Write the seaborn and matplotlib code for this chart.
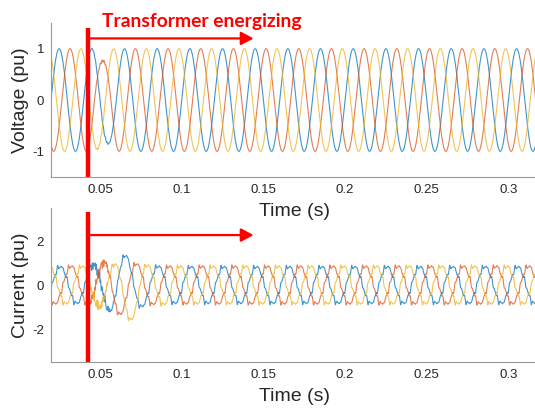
import numpy as np
import pandas as pd
import matplotlib
matplotlib.use('Agg')
import matplotlib.pyplot as plt
import seaborn as sns

# signal parameters
freq_hz = 50.0
t_start = 0.02
t_end = 0.318
t_energize = 0.0424
arrow_end = 0.144

phases = ['A', 'B', 'C']
phase_shift_deg = [0.0, -120.0, 120.0]
phase_colors = ['#0072BD', '#D95319', '#EDB120']

# voltage dip just after energizing (depth, time of deepest point)
v_dip_depth = [0.15, 0.24, 0.05]
v_dip_time = [0.055, 0.0515, 0.050]

# currents: steady amplitude, inrush amplitude, inrush offset, inrush time
i_lag_deg = 12.0
i_steady_amp = [0.84, 0.86, 0.86]
i_inrush_amp = [0.50, 0.38, 0.45]
i_inrush_offset = [0.05, -0.12, -0.32]
i_inrush_peak = [0.062, 0.060, 0.066]
harm_order = [7, 11, 13, 17]
harm_amp = [0.06, 0.05, 0.035, 0.03]
harm_shift = [0.4, 2.1, 1.0, 2.8]

xticks = [0.05, 0.1, 0.15, 0.2, 0.25, 0.3]
xticklabels = ['0.05', '0.1', '0.15', '0.2', '0.25', '0.3']
v_ticks = [-1, 0, 1]
i_ticks = [-2, 0, 2]

t = np.arange(t_start, t_end, 1e-5)
w = 2 * np.pi * freq_hz
after = (t >= t_energize).astype(float)
ramp = after * (1 - np.exp(-(t - t_energize).clip(0) / 0.004))

rows_v = []
rows_i = []
for k, ph in enumerate(phases):
    phi = np.deg2rad(phase_shift_deg[k])
    dip = v_dip_depth[k] * np.exp(-((t - v_dip_time[k]) / 0.0045) ** 2) * after
    wiggle = 0.025 * np.sin(17 * w * t + phi) * np.exp(-((t - 0.051) / 0.005) ** 2) * after
    v = np.sin(w * t + phi) * (1 - dip) + wiggle
    rows_v.append(pd.DataFrame({'t': t, 'y': v, 'phase': ph}))

    th = w * t + phi - np.deg2rad(i_lag_deg)
    bump = np.exp(-((t - i_inrush_peak[k]) / 0.013) ** 2) * ramp
    amp = i_steady_amp[k] + i_inrush_amp[k] * bump
    cur = amp * np.sin(th) + i_inrush_offset[k] * bump
    for n, a, s in zip(harm_order, harm_amp, harm_shift):
        cur += a * np.sin(n * th + s)
    burst = np.exp(-((t - 0.049) / 0.007) ** 2) * after
    cur += burst * (0.12 * np.sin(23 * th) + 0.08 * np.sin(31 * th + 1.0))
    rows_i.append(pd.DataFrame({'t': t, 'y': cur, 'phase': ph}))

volt = pd.concat(rows_v)
curr = pd.concat(rows_i)

sns.set_style('white')
plt.rcParams['font.family'] = ['Liberation Sans', 'DejaVu Sans']
plt.rcParams['axes.unicode_minus'] = False

fig = plt.figure(figsize=(5.35, 4.11), dpi=100)
ax1 = fig.add_axes([0.0953, 0.5693, 0.91, 0.3747])
ax2 = fig.add_axes([0.0953, 0.1192, 0.91, 0.3747])
ax2.patch.set_visible(False)

pal = dict(zip(phases, phase_colors))
sns.lineplot(data=volt, x='t', y='y', hue='phase', palette=pal, estimator=None,
             sort=False, legend=False, lw=0.8, alpha=0.75, ax=ax1)
sns.lineplot(data=curr, x='t', y='y', hue='phase', palette=pal, estimator=None,
             sort=False, legend=False, lw=0.8, alpha=0.75, ax=ax2)


def style(ax, ylim, yticks, ylabel):
    ax.set_xlim(t_start, t_end)
    ax.set_ylim(*ylim)
    ax.set_xticks(xticks)
    ax.set_xticklabels(xticklabels)
    ax.set_yticks(yticks)
    ax.set_xlabel('Time (s)', fontsize=14, color='#262626', labelpad=5)
    ax.set_ylabel(ylabel, fontsize=14, color='#262626', labelpad=2)
    ax.tick_params(direction='in', length=3, width=0.7, colors='#888888',
                   labelcolor='#262626', labelsize=9.5, pad=5)
    for s in ['top', 'right']:
        ax.spines[s].set_visible(False)
    for s in ['left', 'bottom']:
        ax.spines[s].set_color('#999999')
        ax.spines[s].set_linewidth(0.8)


style(ax1, (-1.5, 1.5), v_ticks, 'Voltage (pu)')
style(ax2, (-3.5, 3.5), i_ticks, 'Current (pu)')

# energizing markers
for ax, ytop, yarrow in [(ax1, 1.4, 1.2), (ax2, 3.3, 2.27)]:
    ax.plot([t_energize, t_energize], [ax.get_ylim()[0], ytop], color='#FF0000',
            lw=3.2, solid_capstyle='butt', zorder=5, clip_on=False)
    ax.annotate('', xy=(arrow_end, yarrow), xytext=(t_energize, yarrow),
                arrowprops=dict(arrowstyle='-|>,head_length=0.75,head_width=0.4',
                                color='#FF0000', lw=1.6, mutation_scale=10,
                                shrinkA=0, shrinkB=0), zorder=6)

fig.text(0.19, 0.935, 'Transformer energizing', color='#FF0000', fontsize=13.9,
         fontweight='bold', family=['Lato', 'DejaVu Sans'], va='baseline')

fig.savefig('out.png', dpi=100)
